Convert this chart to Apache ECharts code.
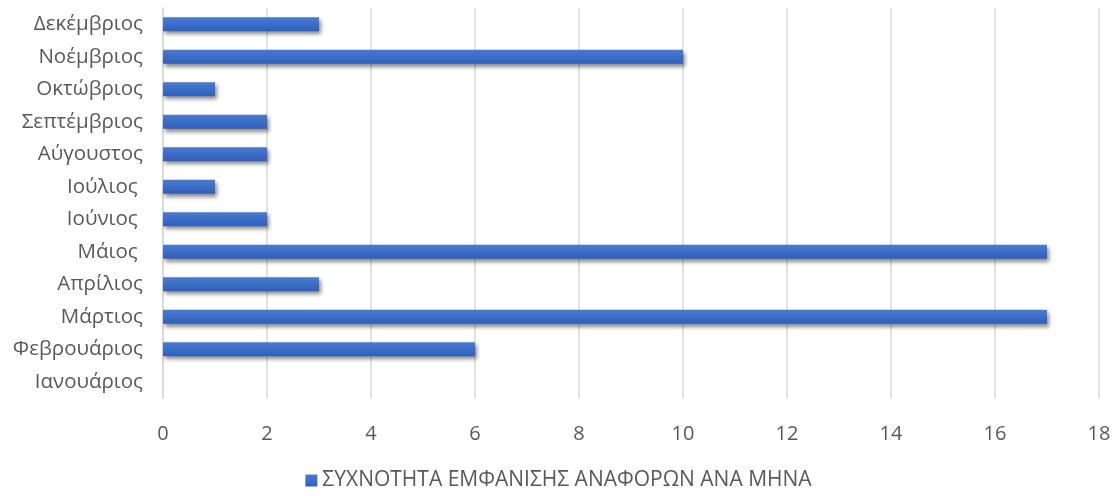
<!DOCTYPE html>
<html>
<head>
<meta charset="utf-8">
<script src="https://cdn.jsdelivr.net/npm/echarts@6/dist/echarts.min.js"></script>
<style>html,body{margin:0;padding:0;background:#fff;}#c{width:1117px;height:496px;}</style>
</head>
<body>
<div id="c"></div>
<script>
const categories = ['Ιανουάριος','Φεβρουάριος','Μάρτιος','Απρίλιος','Μάιος ','Ιούνιος ','Ιούλιος ','Αύγουστος','Σεπτέμβριος','Οκτώβριος','Νοέμβριος','Δεκέμβριος'];
const values = [0, 6, 17, 3, 17, 2, 1, 2, 2, 1, 10, 3];
const seriesName = 'ΣΥΧΝΟΤΗΤΑ ΕΜΦΑΝΙΣΗΣ ΑΝΑΦΟΡΩΝ ΑΝΑ ΜΗΝΑ';
const xMin = 0, xMax = 18, xStep = 2;

const font = 'Open Sans';
const chart = echarts.init(document.getElementById('c'));
const barColor = new echarts.graphic.LinearGradient(0, 0, 0, 1, [
  {offset: 0, color: '#4a7bd0'},
  {offset: 1, color: '#2f5fbd'}
]);
chart.setOption({
  animation: false,
  textStyle: {fontFamily: font},
  grid: {left: 163, right: 18, top: 8, bottom: 98, containLabel: false},
  legend: {
    bottom: 0, left: 'center',
    itemWidth: 12, itemHeight: 12, itemGap: 6,
    textStyle: {color: '#595959', fontSize: 21, fontFamily: font},
    data: [{name: seriesName, icon: 'rect'}]
  },
  xAxis: {
    type: 'value', min: xMin, max: xMax, interval: xStep,
    axisLine: {show: false}, axisTick: {show: false},
    splitLine: {lineStyle: {color: '#d9d9d9', width: 1.5}},
    axisLabel: {color: '#595959', fontSize: 20, margin: 26, fontFamily: font}
  },
  yAxis: {
    type: 'category', data: categories,
    axisLine: {show: true, lineStyle: {color: '#d9d9d9', width: 1.5}},
    axisTick: {show: false},
    axisLabel: {color: '#595959', fontSize: 20.5, margin: 20, fontFamily: font}
  },
  series: [{
    name: seriesName, type: 'bar', data: values, barWidth: 14,
    itemStyle: {
      color: barColor,
      shadowColor: 'rgba(0,0,0,0.45)', shadowBlur: 4, shadowOffsetX: 2, shadowOffsetY: 3
    }
  }]
});
</script>
</body>
</html>
